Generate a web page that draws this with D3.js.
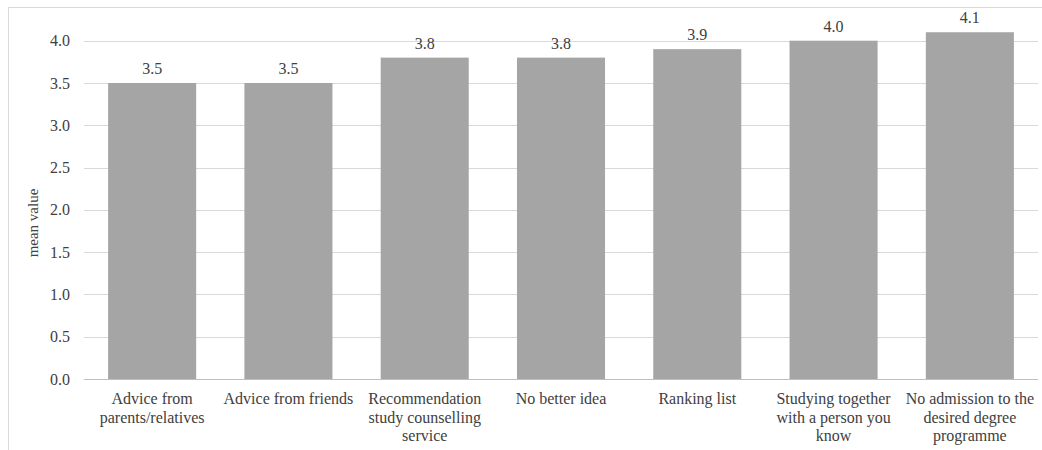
<!DOCTYPE html>
<html><head><meta charset="utf-8">
<script src="https://cdn.jsdelivr.net/npm/d3@7"></script>
<style>body{margin:0;background:#fff}svg{display:block}svg text{font-family:"Liberation Serif","Times New Roman",serif}</style>
</head><body>
<svg id="c" width="1042" height="450"></svg>
<script>
const categories = [
  ["Advice from", "parents/relatives"],
  ["Advice from friends"],
  ["Recommendation", "study counselling", "service"],
  ["No better idea"],
  ["Ranking list"],
  ["Studying together", "with a person you", "know"],
  ["No admission to the", "desired degree", "programme"]
];
const values = [3.5, 3.5, 3.8, 3.8, 3.9, 4.0, 4.1];
const yTicks = [0, 0.5, 1.0, 1.5, 2.0, 2.5, 3.0, 3.5, 4.0];
const yTitle = "mean value";

const svg = d3.select("#c");
const fs = 16;
const pL = 84, pR = 1038, pT = 40.7, pB = 379;

svg.append("rect").attr("x", 8.5).attr("y", 7.5).attr("width", 1040).attr("height", 445)
  .attr("fill", "none").attr("stroke", "#d9d9d9");

const x = d3.scaleBand().domain(d3.range(categories.length)).range([pL, pR]).paddingInner(0.354).paddingOuter(0.177);
const y = d3.scaleLinear().domain([0, 4.0]).range([pB, pT]);

const grid = svg.append("g");
grid.selectAll("line").data(yTicks.filter(d => d > 0)).join("line")
  .attr("x1", pL).attr("x2", pR)
  .attr("y1", d => Math.round(y(d)) + 0.5).attr("y2", d => Math.round(y(d)) + 0.5)
  .attr("stroke", "#d9d9d9").attr("stroke-width", 1);

svg.append("g").selectAll("rect").data(values).join("rect")
  .attr("x", (d, i) => x(i)).attr("width", x.bandwidth())
  .attr("y", d => y(d)).attr("height", d => y(0) - y(d))
  .attr("fill", "#a5a5a5");

svg.append("line").attr("x1", pL).attr("x2", pR)
  .attr("y1", Math.round(y(0)) + 0.5).attr("y2", Math.round(y(0)) + 0.5)
  .attr("stroke", "#bfbfbf");

const yAxis = d3.axisLeft(y).tickValues(yTicks).tickFormat(d3.format(".1f")).tickSize(0).tickPadding(14);
const ya = svg.append("g").attr("transform", `translate(${pL},0)`).call(yAxis);
ya.select(".domain").remove();
ya.selectAll("text").style("font-family", '"Liberation Serif", serif').style("font-size", fs + "px").attr("fill", "#404040");

svg.append("g").selectAll("text").data(values).join("text")
  .attr("x", (d, i) => x(i) + x.bandwidth() / 2).attr("y", d => y(d) - 9)
  .attr("text-anchor", "middle").style("font-size", fs + "px").attr("fill", "#404040")
  .text(d => d.toFixed(1));

const cat = svg.append("g");
categories.forEach((lines, i) => {
  const t = cat.append("text").attr("text-anchor", "middle")
    .style("font-size", fs + "px").attr("fill", "#404040");
  lines.forEach((l, j) => {
    t.append("tspan").attr("x", x(i) + x.bandwidth() / 2).attr("y", 404 + j * 18.5).text(l);
  });
});

svg.append("text").attr("transform", `translate(38,223) rotate(-90)`)
  .attr("text-anchor", "middle").style("font-size", "15px").attr("fill", "#404040")
  .text(yTitle);
</script>
</body></html>
